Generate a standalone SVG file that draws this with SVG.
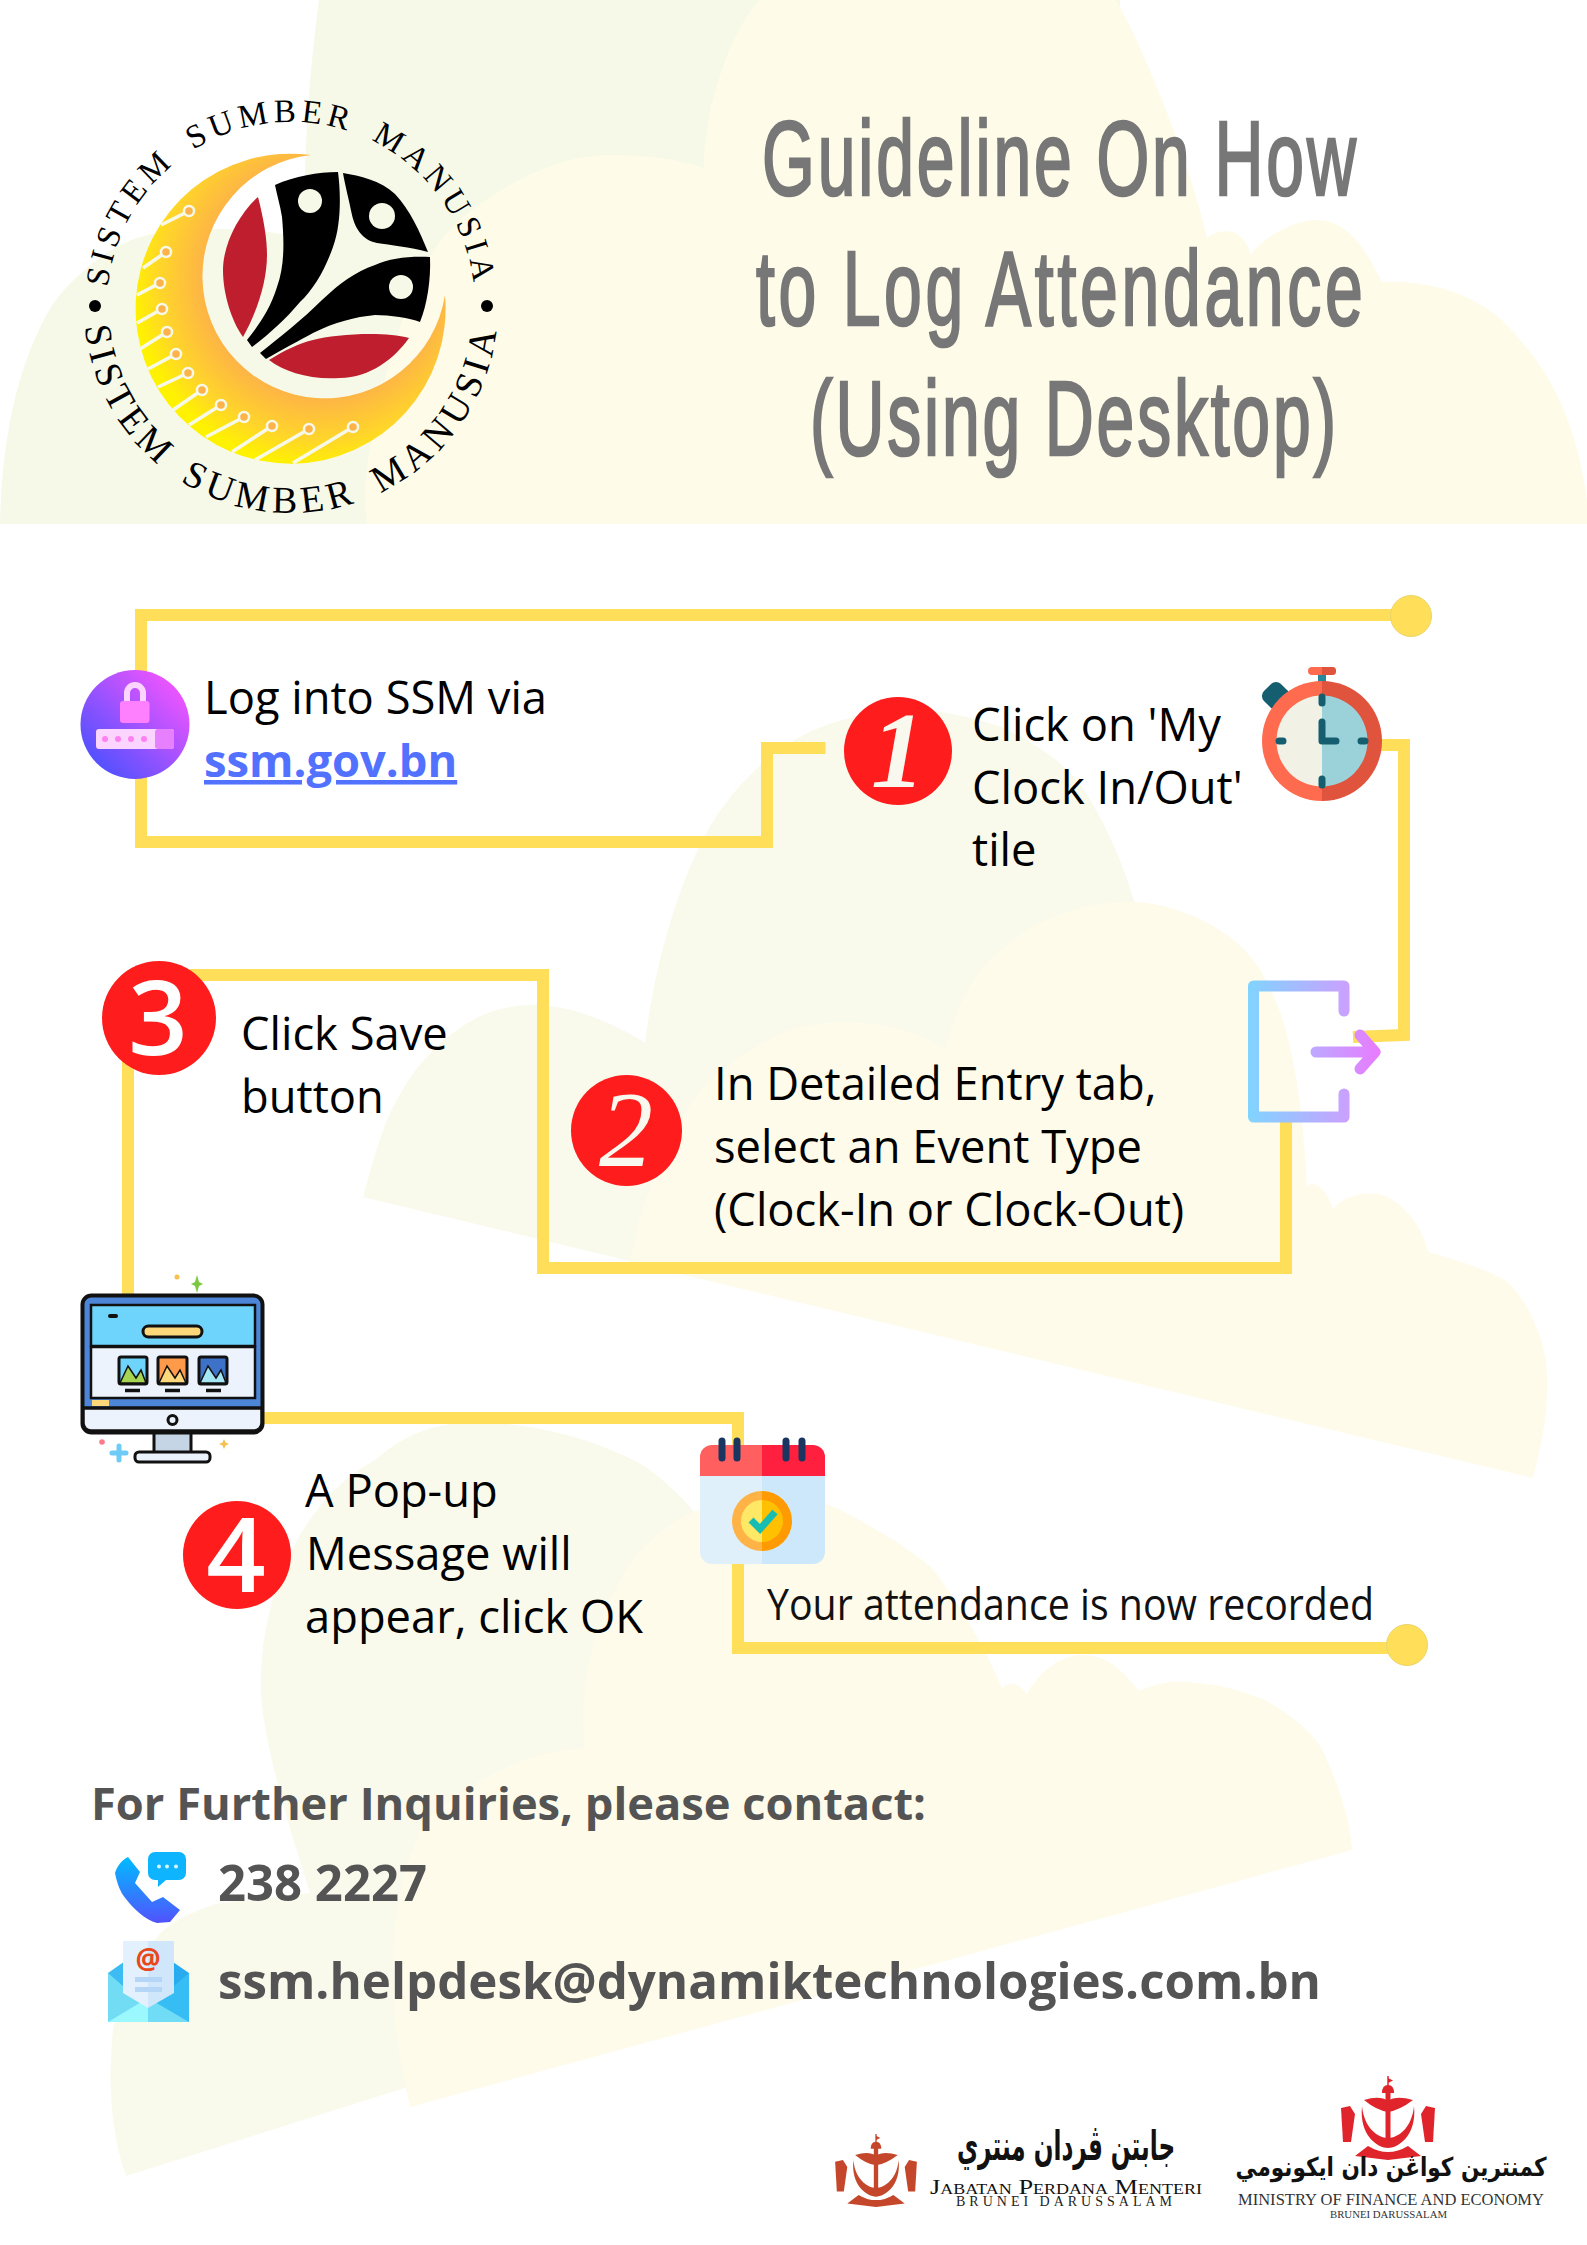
<svg xmlns="http://www.w3.org/2000/svg" xmlns:xlink="http://www.w3.org/1999/xlink" width="1587" height="2245" viewBox="0 0 1587 2245">
<style>
.title{font-family:"Liberation Sans",Arial,sans-serif;font-size:106px;fill:#777;stroke:#777;stroke-width:2.6}
.step{font-family:"Open Sans","Noto Sans",sans-serif;font-size:45.3px;fill:#000}
.contact{font-family:"Open Sans","Noto Sans",sans-serif;font-weight:700;fill:#545454}
.con{fill:none;stroke:#ffde59;stroke-width:12;stroke-linejoin:miter}
.badge{fill:#ff1c1c}
.num{font-family:"Liberation Serif",serif;font-style:italic;fill:#f8f8ee;text-anchor:middle}
.num2{font-family:"Open Sans",sans-serif;font-weight:600;fill:#fff;text-anchor:middle}
.ring{font-family:"Liberation Serif",serif;fill:#000}
.cir{fill:none;stroke:#f6f9e8;stroke-width:3.5}
.dot{fill:#fdb24a;stroke:#f6f9e8;stroke-width:2.5}
.blk{fill:#000}
.red{fill:#be1e2d}
.hole{fill:#f6f9e8}
.srf{font-family:"Liberation Serif",serif}
.tile{stroke:#111;stroke-width:3}
</style>
<defs>
<radialGradient id="cres" gradientUnits="userSpaceOnUse" cx="322" cy="278" r="190"><stop offset="0.62" stop-color="#fdb347"/><stop offset="0.85" stop-color="#ffd52a"/><stop offset="1" stop-color="#fff200"/></radialGradient>
<linearGradient id="lockG" x1="0.9" y1="0.1" x2="0.1" y2="0.9"><stop offset="0" stop-color="#f455ff"/><stop offset="1" stop-color="#4b50ff"/></linearGradient>
<linearGradient id="doorG" gradientUnits="userSpaceOnUse" x1="1248" y1="1050" x2="1349" y2="1050"><stop offset="0" stop-color="#80d4ff"/><stop offset="1" stop-color="#cba0ff"/></linearGradient>
<linearGradient id="arrowG" gradientUnits="userSpaceOnUse" x1="1311" y1="1052" x2="1380" y2="1052"><stop offset="0" stop-color="#bcaaff"/><stop offset="1" stop-color="#e87bff"/></linearGradient>
<linearGradient id="phoneG" x1="0" y1="0" x2="0" y2="1"><stop offset="0" stop-color="#00bcff"/><stop offset="1" stop-color="#5252ff"/></linearGradient>
<path id="arcTop" d="M107 306A184 184 0 0 1 475 306"/>
<path id="arcBot" d="M84 306A207 207 0 0 0 498 306"/>
<g id="crest">
<path d="M0 0V11" stroke-width="1.5" stroke="currentColor"/>
<path d="M0 2L5 4.500L0 7Z"/>
<path d="M-6 17Q-6 9 0 9Q6 9 6 17Z"/>
<path d="M-24 24Q-8 19 0 25Q8 19 25 24Q12 34 0 36Q-12 34-24 24Z"/>
<rect x="-2.500" y="14" width="5" height="50"/>
<path d="M-26 30C-29 60-10 72 0 72C10 72 29 60 26 30C24 52 10 62 0 62C-10 62-24 52-26 30Z"/>
<path d="M-47 32L-38 30L-33 38L-37 66L-45 66Z"/>
<path d="M47 32L38 30L33 38L37 66L45 66Z"/>
<path d="M-33 80L-20 70Q0 82 20 70L33 80L0 84Z"/>
</g>
</defs>

<g id="background">
<rect width="1587" height="2245" fill="#fff"/>
<path fill="#f6f9e8" d="M0 524C2 430 20 360 51 307C65 285 110 240 153 234C175 229 195 228 214 229C250 229 280 232 306 240L305 180C306 120 311 60 319 0L1120 0L1120 524Z"/>
<path fill="#fefbe8" d="M367 524C362 480 370 440 385 380C400 320 420 270 439 243C460 215 485 200 510 185C550 163 580 155 612 155C650 155 680 160 704 168C704 110 730 30 760 0L1116 0C1150 60 1195 180 1207 238C1215 231 1232 227 1242 238C1247 244 1250 250 1250 255C1262 240 1290 220 1317 220C1350 220 1368 255 1382 282C1440 280 1490 300 1520 340C1565 390 1580 450 1587 500L1587 524Z"/>
<path fill="#f9faec" d="M363 1197C372 1165 380 1135 390 1113C402 1090 412 1072 427 1057C440 1042 455 1030 473 1020C490 1010 512 1005 533 1005C555 1005 575 1010 593 1017C612 1024 630 1033 645 1043C655 960 680 880 708 830C730 790 780 735 843 720C870 712 885 709 900 709C940 709 975 718 1001 727C1040 745 1065 765 1081 785C1110 830 1125 870 1134 901L1200 1100L1400 1446Z"/>
<path fill="#fefbea" d="M630 1262C640 1210 650 1180 683 1117C700 1085 730 1060 753 1050C775 1032 800 1026 830 1022C870 1020 920 1030 945 1049C955 1015 965 985 991 959C1015 935 1060 902 1131 902C1170 902 1235 925 1262 973C1290 1020 1302 1090 1307 1187C1312 1180 1325 1185 1333 1209C1345 1195 1365 1192 1378 1194C1400 1198 1422 1225 1428 1252C1450 1258 1490 1270 1508 1282C1535 1310 1547 1350 1547 1377C1548 1420 1540 1450 1533 1478Z"/>
<path fill="#f9faec" d="M261 1694C258 1600 300 1500 375 1460C410 1430 440 1423 473 1423C530 1421 600 1440 646 1467C670 1485 690 1505 698 1517L1000 1900L126 2176C110 2130 108 2080 113 2030C125 1975 157 1937 157 1937C175 1915 220 1903 220 1903L310 1893C290 1830 265 1750 261 1694Z"/>
<path fill="#fefbea" d="M410 2107C385 2000 385 1900 425 1821C470 1780 530 1750 585 1748C578 1680 595 1620 628 1567C650 1535 680 1517 698 1510C760 1490 810 1495 840 1510C880 1530 910 1550 931 1567C965 1610 990 1660 1002 1688C1010 1680 1020 1685 1027 1694C1040 1670 1065 1650 1093 1656C1115 1660 1130 1680 1139 1691C1160 1682 1175 1680 1194 1683C1230 1685 1250 1695 1265 1700C1300 1720 1320 1740 1326 1758C1340 1790 1350 1820 1352 1850Z"/>
</g>

<g id="connectors">
<path class="con" d="M1411 615H141V842H767V748H825.500"/>
<path class="con" d="M1375 745H1404V1035L1353 1037"/>
<path class="con" d="M1286 1115V1268H543V975H190"/>
<path class="con" d="M128 1010V1320"/>
<path class="con" d="M262 1418H738V1450"/>
<path class="con" d="M738 1560V1648H1407"/>
<circle cx="1411" cy="616" r="20.500" fill="#ffde59" stroke="#ead56a"/>
<circle cx="1407" cy="1645" r="20.500" fill="#ffde59" stroke="#ead56a"/>
</g>

<g id="logo">
<path fill="url(#cres)" d="M311 155A155 155 0 1 0 445 295A122 122 0 1 1 311 155Z"/>
<g class="cir">
<path d="M161 225L189 211M143 268L166 252M137 295L160 283M137 323L162 309M140 349L167 332M148 369L176 354M158 387L188 373M173 410L202 390M189 425L221 405M206 437L244 417M232 452L272 426M255 460L309 429M293 463L353 427"/>
</g>
<g class="dot">
<circle cx="189" cy="211" r="5"/><circle cx="166" cy="252" r="5"/><circle cx="160" cy="283" r="5"/><circle cx="162" cy="309" r="5"/><circle cx="167" cy="332" r="5"/><circle cx="176" cy="354" r="5"/><circle cx="188" cy="373" r="5"/><circle cx="202" cy="390" r="5"/><circle cx="221" cy="405" r="5"/><circle cx="244" cy="417" r="5"/><circle cx="272" cy="426" r="5"/><circle cx="309" cy="429" r="5"/><circle cx="353" cy="427" r="5"/>
</g>
<path class="red" d="M258 197C264 220 267 240 267 255C267 280 258 310 243 337C232 322 223 295 223 270C223 245 238 215 258 197Z"/>
<path class="red" d="M269 360C285 350 300 343 313 340C335 334 385 331 409 338C395 358 370 378 340 378C310 380 285 372 269 360Z"/>
<path class="blk" d="M275 185C295 176 318 172 338 172C341 195 341 225 333 247C325 270 313 290 300 302C285 320 268 335 252 347L247 340C258 326 270 310 277 287C285 265 284 240 282 217C280 205 277 195 275 185Z"/>
<path class="blk" d="M343 173C360 176 380 180 395 194C410 210 420 232 428 252C410 247 390 245 377 243C362 240 355 228 352 215C349 200 345 185 343 173Z"/>
<path class="blk" d="M430 257C410 256 390 258 375 265C355 272 340 283 322 300C302 320 280 337 260 353L266 359C285 348 300 340 313 333C335 322 355 317 375 315C390 315 410 318 420 322C427 305 431 280 430 257Z"/>
<circle class="hole" cx="310" cy="201" r="12"/><circle class="hole" cx="382" cy="216" r="13"/><circle class="hole" cx="401" cy="287" r="12"/>
<circle cx="95" cy="306" r="6" fill="#000"/><circle cx="487" cy="306" r="6" fill="#000"/>
<text class="ring" font-size="33" letter-spacing="4.800" word-spacing="8"><textPath href="#arcTop" xlink:href="#arcTop" startOffset="50%" text-anchor="middle">SISTEM SUMBER MANUSIA</textPath></text>
<text class="ring" font-size="38" letter-spacing="5" word-spacing="8"><textPath href="#arcBot" xlink:href="#arcBot" startOffset="50%" text-anchor="middle">SISTEM SUMBER MANUSIA</textPath></text>
</g>

<g id="title">
<text class="title" transform="translate(762 195) scale(.64 1)" textLength="928" lengthAdjust="spacing">Guideline On How</text>
<text class="title" transform="translate(756 325) scale(.64 1)" textLength="948" lengthAdjust="spacing">to Log Attendance</text>
<text class="title" transform="translate(810 455) scale(.64 1)" textLength="822" lengthAdjust="spacing">(Using Desktop)</text>
</g>

<g id="node-login">
<circle cx="135" cy="724.500" r="54.500" fill="url(#lockG)"/>
<path d="M127 702V693a8 8 0 0 1 16 0V702" fill="none" stroke="#fbd5ff" stroke-width="6"/>
<rect x="120" y="701" width="29.500" height="22" rx="3" fill="#ff80ff"/>
<rect x="96" y="729" width="78" height="20" rx="3" fill="#fbd5ff"/>
<rect x="155" y="729" width="19" height="20" rx="3" fill="#e680ff"/>
<g fill="#ff80f0"><circle cx="105" cy="739" r="3"/><circle cx="118" cy="739" r="3"/><circle cx="131" cy="739" r="3"/><circle cx="144" cy="739" r="3"/></g>
<text class="step" x="204" y="714">Log into SSM via</text>
<text class="step" x="204" y="777" font-weight="700" style="fill:#5271ff" text-decoration="underline">ssm.gov.bn</text>
</g>

<g id="node-step1">
<circle class="badge" cx="898" cy="751" r="54"/>
<text class="num" x="898" y="787" font-size="108" font-weight="700">1</text>
<text class="step" x="972" y="741">Click on 'My</text>
<text class="step" x="972" y="804">Clock In/Out'</text>
<text class="step" x="972" y="866">tile</text>
</g>

<g id="node-timer">
<rect x="1308" y="667" width="28" height="8" rx="4" fill="#ff6b4f"/>
<path d="M1322 667H1332a4 4 0 0 1 0 8H1322Z" fill="#e0533d"/>
<rect x="1318" y="675" width="8" height="8" fill="#27889c"/>
<rect x="1264" y="684" width="24" height="24" rx="7" fill="#145e70" transform="rotate(45 1276 696)"/>
<path d="M1322 681a60 60 0 0 0 0 120Z" fill="#ff6b4f"/>
<path d="M1322 681a60 60 0 0 1 0 120Z" fill="#e0533d"/>
<path d="M1322 695.500a45.500 45.500 0 0 0 0 91Z" fill="#f2f1e6"/>
<path d="M1322 695.500a45.500 45.500 0 0 1 0 91Z" fill="#9bd2da"/>
<path d="M1322 697V703M1322 779V785M1279 741H1283M1361 741H1365M1322 722V741H1336" fill="none" stroke="#145e70" stroke-width="7" stroke-linecap="round" stroke-linejoin="round"/>
</g>

<g id="node-door">
<path d="M1344 1011V986H1253.500V1117H1344V1094" fill="none" stroke="url(#doorG)" stroke-width="11" stroke-linecap="round" stroke-linejoin="round"/>
<path d="M1316 1052H1375M1360 1035L1375 1052L1360 1069" fill="none" stroke="url(#arrowG)" stroke-width="11" stroke-linecap="round" stroke-linejoin="round"/>
</g>

<g id="node-step2">
<circle class="badge" cx="626.500" cy="1130.500" r="55.500"/>
<text class="num" x="626" y="1166" font-size="108">2</text>
<text class="step" x="714" y="1100">In Detailed Entry tab,</text>
<text class="step" x="714" y="1163">select an Event Type</text>
<text class="step" x="714" y="1226">(Clock-In or Clock-Out)</text>
</g>

<g id="node-step3">
<circle class="badge" cx="159" cy="1018" r="57"/>
<text class="num2" x="158" y="1055" font-size="104">3</text>
<text class="step" x="241" y="1050">Click Save</text>
<text class="step" x="241" y="1113">button</text>
</g>

<g id="node-monitor">
<rect x="82.500" y="1295.500" width="180" height="137" rx="9" fill="#4d86d8" stroke="#111" stroke-width="4"/>
<rect x="91" y="1305" width="164" height="41" fill="#6ed4fb" stroke="#111" stroke-width="2.500"/>
<rect x="91" y="1347" width="164" height="51" fill="#ecf3fc" stroke="#111" stroke-width="2.500"/>
<rect x="92" y="1400" width="17" height="6" fill="#fdd87a"/>
<path d="M83 1408H262V1423a8 8 0 0 1-8 8H91a8 8 0 0 1-8-8Z" fill="#ecf3fc" stroke="#111" stroke-width="3.500"/>
<circle cx="172.500" cy="1420" r="4.500" fill="#ecf3fc" stroke="#111" stroke-width="3"/>
<rect x="154" y="1433" width="37" height="20" fill="#c5d5e5" stroke="#111" stroke-width="3"/>
<rect x="135" y="1452" width="75" height="10" rx="4" fill="#ecf3fc" stroke="#111" stroke-width="3"/>
<rect x="143" y="1326" width="59" height="11" rx="5.500" fill="#fdd87a" stroke="#111" stroke-width="3"/>
<rect x="108" y="1314" width="10" height="4" rx="2" fill="#111"/>
<rect class="tile" x="119" y="1357" width="28" height="27" rx="2" fill="#6ed4fb"/>
<rect class="tile" x="158" y="1357" width="29" height="27" rx="2" fill="#ff9a4a"/>
<rect class="tile" x="199" y="1357" width="28" height="27" rx="2" fill="#3e72c8"/>
<path d="M120 1383L128 1366L136 1378L141 1370L146 1383Z" fill="#a6d651" stroke="#111" stroke-width="1.500"/>
<path d="M159 1383L167 1366L175 1378L180 1370L186 1383Z" fill="#fdd87a" stroke="#111" stroke-width="1.500"/>
<path d="M200 1383L208 1366L216 1378L221 1370L226 1383Z" fill="#a5e6f5" stroke="#111" stroke-width="1.500"/>
<path d="M125 1390.500H140M165 1390.500H180M206 1390.500H221" stroke="#111" stroke-width="3.500"/>
<path d="M197 1275L199 1282L203 1284L199 1286L197 1293L195 1286L191 1284L195 1282Z" fill="#7bc943"/>
<circle cx="177" cy="1277" r="2.500" fill="#f8c04d"/>
<circle cx="102" cy="1442" r="2.800" fill="#ff7a8a"/>
<path d="M119 1446V1460M112 1453H126" stroke="#6ecbf5" stroke-width="5" stroke-linecap="round"/>
<path d="M224 1439L225.500 1442.500L229 1444L225.500 1445.500L224 1449L222.500 1445.500L219 1444L222.500 1442.500Z" fill="#f8c04d"/>
</g>

<g id="node-step4">
<circle class="badge" cx="237" cy="1555" r="54"/>
<text class="num2" x="236" y="1592" font-size="104">4</text>
<text class="step" x="305" y="1507">A Pop-up</text>
<text class="step" x="306" y="1570">Message will</text>
<text class="step" x="305" y="1633">appear, click OK</text>
</g>

<g id="node-calendar">
<path d="M700 1476H762V1564H712a12 12 0 0 1-12-12Z" fill="#e0f0fa"/>
<path d="M762 1476H825V1552a12 12 0 0 1-12 12H762Z" fill="#cde8fb"/>
<path d="M700 1476V1457a12 12 0 0 1 12-12H762V1476Z" fill="#ff5f5f"/>
<path d="M825 1476V1457a12 12 0 0 0-12-12H762V1476Z" fill="#ff1f3f"/>
<path d="M722 1441V1458M737 1441V1458M786 1441V1458M802 1441V1458" stroke="#1a3560" stroke-width="7" stroke-linecap="round"/>
<path d="M762 1491a30 30 0 0 0 0 60Z" fill="#ffb347"/>
<path d="M762 1491a30 30 0 0 1 0 60Z" fill="#ff9a00"/>
<path d="M762 1500a21 21 0 0 0 0 42Z" fill="#ffe866"/>
<path d="M762 1500a21 21 0 0 1 0 42Z" fill="#ffc000"/>
<path d="M751 1520L760 1529L775 1512" fill="none" stroke="#16bdb0" stroke-width="7"/>
<text x="767" y="1620" font-family="'Open Sans','Noto Sans',sans-serif" font-size="44" fill="#111" textLength="607" lengthAdjust="spacingAndGlyphs">Your attendance is now recorded</text>
</g>

<g id="contact">
<text class="contact" x="91" y="1820" font-size="44" textLength="835" lengthAdjust="spacingAndGlyphs">For Further Inquiries, please contact:</text>
<path d="M128 1857L140 1872L135 1883L152 1902L163 1897L180 1910L170 1922L157 1923C145 1920 133 1908 126 1899C120 1892 117 1883 115 1873C117 1866 122 1860 128 1857Z" fill="url(#phoneG)"/>
<path d="M155 1852H179a7 7 0 0 1 7 7V1873a7 7 0 0 1-7 7H166L158 1887V1880H155a7 7 0 0 1-7-7V1859a7 7 0 0 1 7-7Z" fill="#0fb4ff"/>
<g fill="#d8f4ff"><circle cx="159" cy="1866.500" r="2"/><circle cx="167" cy="1866.500" r="2"/><circle cx="176" cy="1866.500" r="2"/></g>
<text class="contact" x="218" y="1901" font-size="50" textLength="209" lengthAdjust="spacingAndGlyphs">238 2227</text>
<path d="M108 1973L148 1945V2022H108Z" fill="#3cbcf2"/>
<path d="M189 1973L148 1945V2022H189Z" fill="#29abf0"/>
<path d="M108 1973L148 2008V2022H108Z" fill="#72dcf5"/>
<path d="M189 1973L148 2008V2022H189Z" fill="#36bdf3"/>
<path d="M108 2022L148 1998L148 2022Z" fill="#9cf8ff"/>
<path d="M189 2022L148 1998L148 2022Z" fill="#70dcf5"/>
<path d="M123 1941H148V2008L123 1993Z" fill="#e2f1fd"/>
<path d="M174 1941H148V2008L174 1993Z" fill="#d0e6fb"/>
<rect x="135" y="1977" width="27" height="5" fill="#b6d6f7"/>
<rect x="135" y="1987" width="27" height="5" fill="#b6d6f7"/>
<text x="148" y="1969" font-family="'Open Sans',sans-serif" font-weight="700" font-size="28" fill="#e8481c" text-anchor="middle">@</text>
<text class="contact" x="218" y="1999" font-size="50" textLength="1103" lengthAdjust="spacingAndGlyphs">ssm.helpdesk@dynamiktechnologies.com.bn</text>
</g>

<g id="logo-jpm">
<use href="#crest" xlink:href="#crest" transform="translate(876 2134) scale(.87)" fill="#c4472c" color="#c4472c"/>
<text transform="translate(1066 2160) scale(.68 1.2)" font-family="'DejaVu Sans',sans-serif" font-weight="700" font-size="34" fill="#111" text-anchor="middle" direction="rtl">جابتن ڤردان منتري</text>
<text class="srf" x="930" y="2194" font-size="22" fill="#111" textLength="272" lengthAdjust="spacingAndGlyphs" style="font-variant:small-caps">Jabatan Perdana Menteri</text>
<text class="srf" x="956" y="2206" font-size="14" fill="#222" textLength="216" lengthAdjust="spacing">BRUNEI DARUSSALAM</text>
</g>

<g id="logo-mofe">
<use href="#crest" xlink:href="#crest" transform="translate(1388 2076)" fill="#e0242c" color="#e0242c"/>
<text transform="translate(1391 2176) scale(.83 1)" font-family="'DejaVu Sans',sans-serif" font-weight="700" font-size="26" fill="#111" text-anchor="middle" direction="rtl">كمنترين كواڠن دان ايكونومي</text>
<text class="srf" x="1238" y="2205" font-size="16.500" fill="#333" textLength="306" lengthAdjust="spacingAndGlyphs">MINISTRY OF FINANCE AND ECONOMY</text>
<text class="srf" x="1330" y="2218" font-size="11" fill="#333" textLength="117" lengthAdjust="spacingAndGlyphs">BRUNEI DARUSSALAM</text>
</g>
</svg>
